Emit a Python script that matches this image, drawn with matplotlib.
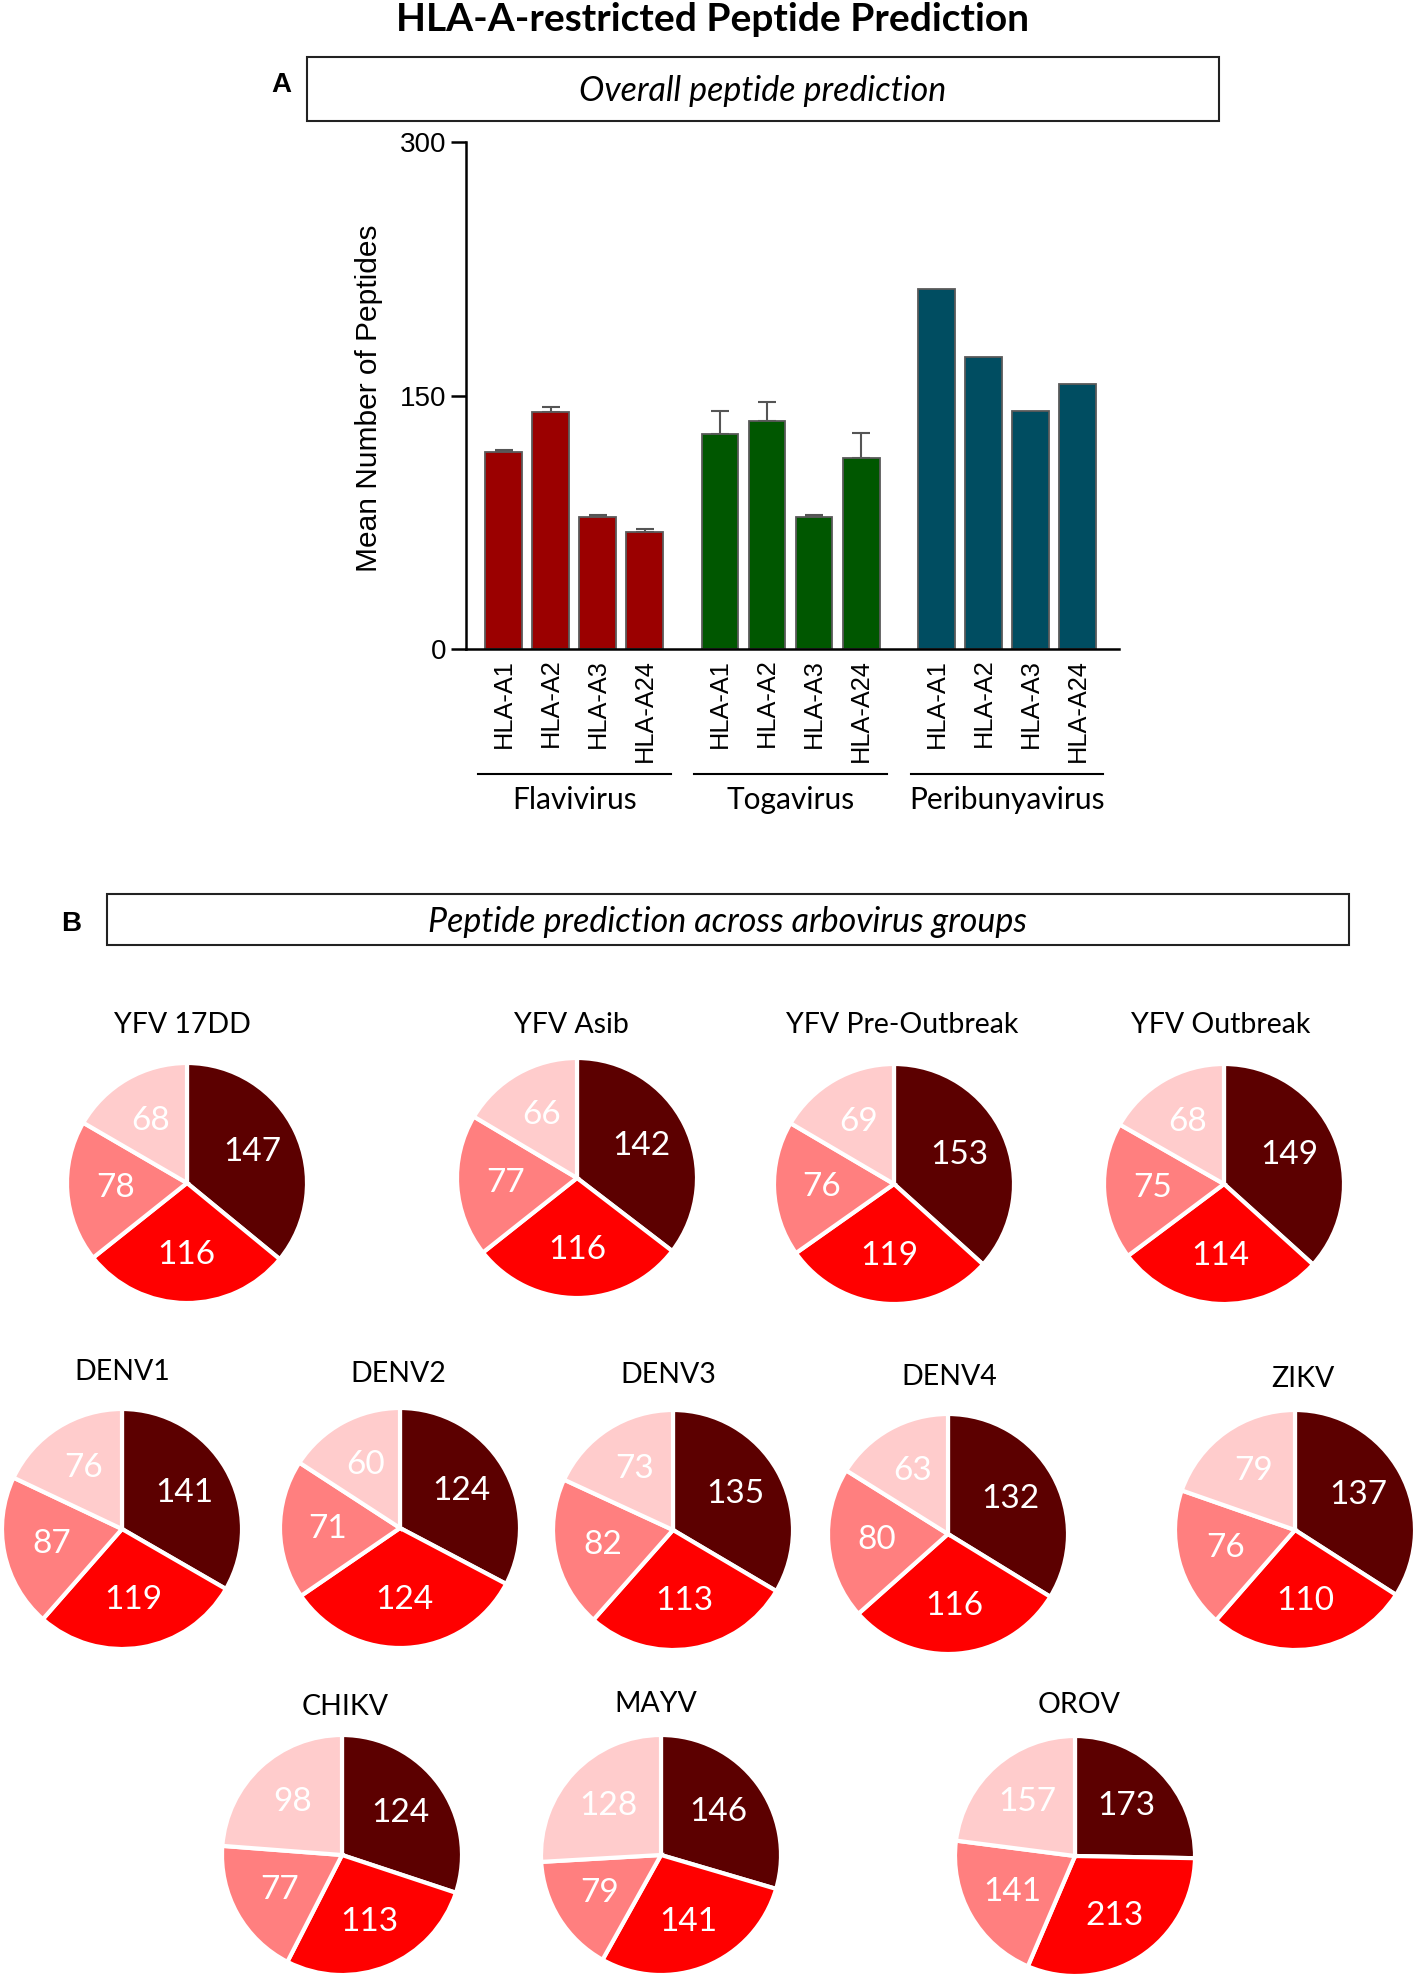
import matplotlib
matplotlib.use("Agg")
import matplotlib.pyplot as plt
from matplotlib import font_manager
from matplotlib.patches import Rectangle
import numpy as np

# ---------------- data ----------------
alleles = ["HLA-A1", "HLA-A2", "HLA-A3", "HLA-A24"]
families = ["Flavivirus", "Togavirus", "Peribunyavirus"]
flavi_mean = [116.3, 140.0, 78.0, 69.1]
flavi_err = [1.5, 3.0, 1.5, 2.0]
toga_mean = [127.0, 135.0, 78.0, 113.0]
toga_err = [14.0, 11.0, 1.0, 15.0]
peri_mean = [213.0, 173.0, 141.0, 157.0]
peri_err = [0.0, 0.0, 0.0, 0.0]
yticks = [0, 150, 300]

viruses = ["YFV 17DD", "YFV Asib", "YFV Pre-Outbreak", "YFV Outbreak",
           "DENV1", "DENV2", "DENV3", "DENV4", "ZIKV",
           "CHIKV", "MAYV", "OROV"]
# pie order: HLA-A2 (dark), HLA-A1 (red), HLA-A3 (pink), HLA-A24 (light)
pie_a2 = [147, 142, 153, 149, 141, 124, 135, 132, 137, 124, 146, 173]
pie_a1 = [116, 116, 119, 114, 119, 124, 113, 116, 110, 113, 141, 213]
pie_a3 = [78, 77, 76, 75, 87, 71, 82, 80, 76, 77, 79, 141]
pie_a24 = [68, 66, 69, 68, 76, 60, 73, 63, 79, 98, 128, 157]

# ---------------- style ----------------
W, H = 1418, 1979
names = {f.name for f in font_manager.fontManager.ttflist}
NARROW = "Liberation Sans Narrow" if "Liberation Sans Narrow" in names else "Liberation Sans"
ARIAL = "Liberation Sans"
CAL = "Lato"

fam_colors = ["#9b0000", "#005700", "#004d61"]
pie_colors = ["#5c0000", "#ff0000", "#ff7f7f", "#ffcccc"]

fig = plt.figure(figsize=(W / 100, H / 100), dpi=100)


def fx(px):
    return px / W


def fy(py):
    return 1 - py / H


def px_axes(x0, y0, x1, y1):
    return fig.add_axes([fx(x0), fy(y1), (x1 - x0) / W, (y1 - y0) / H])


# ---------------- title & panel headers ----------------
fig.text(fx(712), fy(31), "HLA-A-restricted Peptide Prediction", ha="center",
         va="baseline", fontsize=28, fontweight="bold", family=CAL)

fig.text(fx(281), fy(92), "A", ha="center", va="baseline", fontsize=20,
         fontweight="bold", family=ARIAL)
fig.patches.append(Rectangle((fx(307), fy(121)), (1219 - 307) / W, (121 - 57) / H,
                             transform=fig.transFigure, fill=False,
                             edgecolor="#222222", linewidth=1.5))
fig.text(fx(763), fy(101), "Overall peptide prediction", ha="center",
         va="baseline", fontsize=24.5, style="italic", family=CAL)

fig.text(fx(71), fy(931), "B", ha="center", va="baseline", fontsize=20,
         fontweight="bold", family=ARIAL)
fig.patches.append(Rectangle((fx(107), fy(945)), (1349 - 107) / W, (945 - 894) / H,
                             transform=fig.transFigure, fill=False,
                             edgecolor="#222222", linewidth=1.5))
fig.text(fx(727), fy(932), "Peptide prediction across arbovirus groups",
         ha="center", va="baseline", fontsize=24.5, style="italic", family=CAL)

# ---------------- bar chart ----------------
ax = px_axes(466, 142, 1119, 649)
means = [flavi_mean, toga_mean, peri_mean]
errs = [flavi_err, toga_err, peri_err]
group_gap = 4.6
xpos_all, lab_all = [], []
for g, (m, e) in enumerate(zip(means, errs)):
    xs = np.arange(len(alleles)) + g * group_gap
    ax.bar(xs, m, width=0.78, color=fam_colors[g], edgecolor="#5a5a5a",
           linewidth=1.3, zorder=2)
    e = np.array(e)
    if e.max() > 0:
        ax.errorbar(xs, m, yerr=[np.zeros_like(e), e], fmt="none",
                    ecolor="#555555", elinewidth=1.5, capsize=6.5,
                    capthick=1.5, zorder=1)
    xpos_all.extend(xs)
    lab_all.extend(alleles)
    cx = xs.mean()
    tr = ax.get_xaxis_transform()
    ax.plot([cx - 2.05, cx + 2.05], [-0.2465, -0.2465], transform=tr,
            color="black", linewidth=1.5, clip_on=False)
    ax.text(cx, -0.315, families[g], transform=tr, ha="center", va="baseline",
            fontsize=21.5, family=CAL)

ax.set_xlim(-0.8, 13.08)
ax.set_ylim(0, 300)
ax.set_yticks(yticks)
ax.set_yticklabels([str(t) for t in yticks], family=NARROW, fontsize=20)
ax.set_xticks(xpos_all)
ax.set_xticklabels(lab_all, rotation=90, family=ARIAL, fontsize=18.3)
ax.tick_params(axis="x", length=0, pad=7)
ax.tick_params(axis="y", length=11, width=1.8, pad=3)
for s in ["top", "right"]:
    ax.spines[s].set_visible(False)
for s in ["left", "bottom"]:
    ax.spines[s].set_linewidth(1.8)
fig.text(fx(369), fy(398), "Mean Number of Peptides", rotation=90,
         ha="center", va="center", fontsize=21.5, family=ARIAL)

# ---------------- pies ----------------
centers = [(187, 1183), (577, 1178), (894, 1184), (1224, 1184),
           (122, 1529), (400, 1528), (673, 1530), (948, 1534), (1295, 1530),
           (342, 1855), (661, 1855), (1075, 1856)]
title_pos = [(182, 1033), (571, 1033), (902, 1033), (1221, 1033),
             (122, 1380), (398, 1382), (668, 1383), (949, 1385), (1303, 1387),
             (345, 1715), (656, 1712), (1079, 1713)]
R = 120
for i, name in enumerate(viruses):
    vals = [pie_a2[i], pie_a1[i], pie_a3[i], pie_a24[i]]
    cx, cy = centers[i]
    pax = px_axes(cx - R, cy - R, cx + R, cy + R)
    it = iter(vals)
    pax.pie(vals, colors=pie_colors, startangle=90, counterclock=False,
            radius=1.0, autopct=lambda p: str(next(it)), pctdistance=0.6,
            wedgeprops=dict(edgecolor="white", linewidth=3),
            textprops=dict(color="white", fontsize=24, family=CAL))
    pax.set_xlim(-1, 1)
    pax.set_ylim(-1, 1)
    pax.set_aspect("equal")
    pax.axis("off")
    tx, ty = title_pos[i]
    fig.text(fx(tx), fy(ty), name, ha="center", va="baseline", fontsize=20.5,
             family=CAL)

fig.savefig("out.png", dpi=100, facecolor="white")
